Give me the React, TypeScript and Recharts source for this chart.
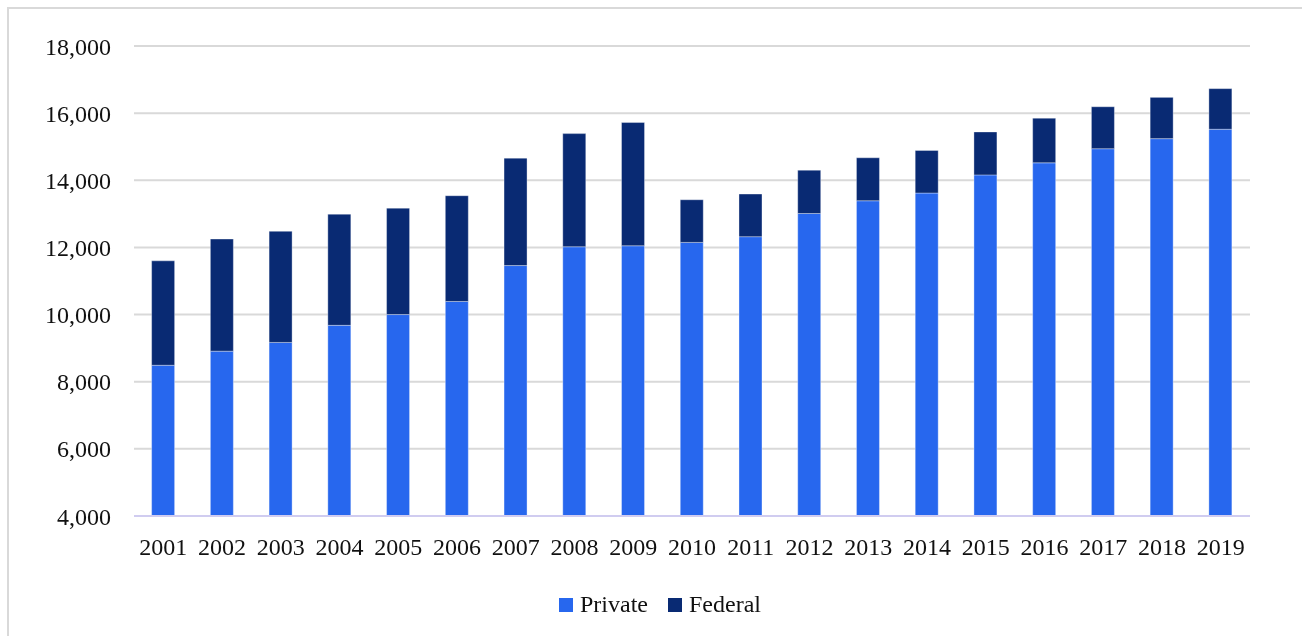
import { BarChart, Bar, XAxis, YAxis, CartesianGrid, Legend } from "recharts"

// 年ごとの研究雇用（民間・連邦）
const years = [
  "2001", "2002", "2003", "2004", "2005", "2006", "2007", "2008", "2009", "2010",
  "2011", "2012", "2013", "2014", "2015", "2016", "2017", "2018", "2019",
]
const privateValues = [
  8490, 8910, 9170, 9680, 10000, 10390, 11460, 12020, 12050, 12150,
  12320, 13010, 13390, 13620, 14160, 14520, 14940, 15240, 15520,
]
const totalValues = [
  11600, 12250, 12480, 12990, 13170, 13540, 14660, 15390, 15720, 13420,
  13590, 14300, 14670, 14890, 15440, 15850, 16190, 16470, 16730,
]
const yTicks = [4000, 6000, 8000, 10000, 12000, 14000, 16000, 18000]

const data = years.map((year, i) => ({
  year,
  private: privateValues[i],
  federal: totalValues[i] - privateValues[i],
}))

const series = [
  { key: "private", name: "Private", color: "#2767ee" },
  { key: "federal", name: "Federal", color: "#092a73" },
]

const font = "'Liberation Serif', 'Times New Roman', serif"

const renderLegend = () => (
  <div style={{ display: "flex", justifyContent: "center", gap: 20, fontFamily: font, fontSize: 24, color: "#111" }}>
    {series.map((s) => (
      <span key={s.key} style={{ display: "flex", alignItems: "center" }}>
        <span style={{ width: 14, height: 14, background: s.color, marginRight: 7, display: "inline-block" }} />
        {s.name}
      </span>
    ))}
  </div>
)

export default function App() {
  return (
    <div
      style={{
        position: "fixed",
        left: 7,
        top: 7,
        width: 1295,
        height: 629,
        borderLeft: "2px solid #d9d9d9",
        borderTop: "2px solid #d9d9d9",
        boxSizing: "border-box",
      }}
    >
      <div style={{ position: "absolute", left: -1, top: -1 }}>
        <BarChart
          width={1286}
          height={620}
          data={data}
          barCategoryGap="30%"
          margin={{ top: 38, right: 44, left: 26, bottom: 45 }}
        >
          <CartesianGrid vertical={false} stroke="#d9d9d9" strokeWidth={2} />
          <XAxis
            dataKey="year"
            height={40}
            tickLine={false}
            tickSize={0}
            tickMargin={22}
            axisLine={{ stroke: "#d0ccf0", strokeWidth: 2 }}
            tick={{ fill: "#111", fontSize: 24, fontFamily: font }}
            interval={0}
          />
          <YAxis
            width={100}
            domain={[4000, 18000]}
            ticks={yTicks}
            allowDataOverflow
            tickLine={false}
            axisLine={false}
            tickSize={0}
            tickMargin={23}
            tickFormatter={(v) => v.toLocaleString("en-US")}
            tick={{ fill: "#111", fontSize: 24, fontFamily: font }}
          />
          <Legend content={renderLegend} verticalAlign="bottom" wrapperStyle={{ left: 452, width: 400, bottom: 10 }} />
          {series.map((s) => (
            <Bar
              key={s.key}
              dataKey={s.key}
              name={s.name}
              stackId="a"
              fill={s.color}
              stroke="rgba(255,255,255,0.35)"
              strokeWidth={1}
              isAnimationActive={false}
            />
          ))}
        </BarChart>
      </div>
    </div>
  )
}
